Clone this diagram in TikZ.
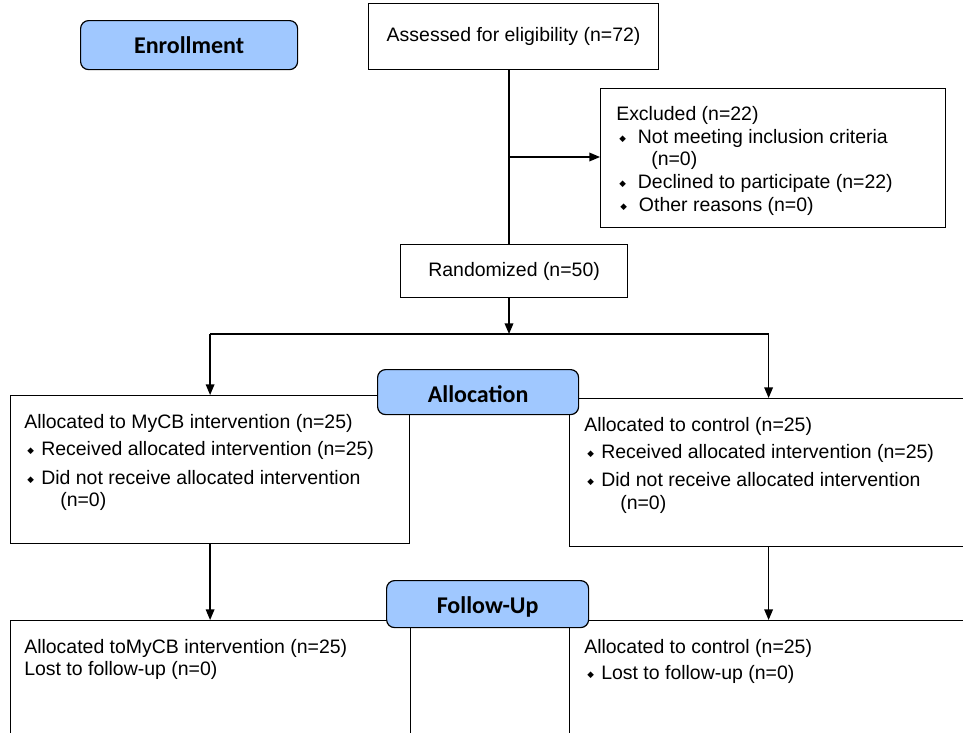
\documentclass[tikz,border=0pt]{standalone}
\usepackage{fontspec}
\setmainfont{Liberation Sans}
\newfontfamily\hdrfont{Carlito}
\newfontfamily\dvfont{DejaVu Sans}
\usetikzlibrary{arrows.meta}
\definecolor{hdrblue}{RGB}{160,200,255}
\newcommand\bl[1]{\makebox[#1][l]{\raisebox{1pt}{\dvfont\fontsize{6.5}{7}\selectfont ◆}}}
\tikzset{
  box/.style={draw, line width=0.9pt, rectangle, anchor=north west, inner sep=0pt},
  hdrbox/.style={draw, line width=0.9pt, rounded corners=6pt, fill=hdrblue, anchor=north west,
    inner sep=0pt, font=\hdrfont\bfseries\fontsize{18}{20}\selectfont},
  txt/.style={anchor=base west, inner sep=0pt, font=\fontsize{14.6}{17.5}\selectfont},
  ctxt/.style={font=\fontsize{14.6}{17.5}\selectfont},
  arr/.style={line width=1pt, -{Triangle[length=8pt,width=6.5pt]}},
  ln/.style={line width=1pt}
}
\begin{document}
\begin{tikzpicture}[x=0.75pt,y=-0.75pt]
\useasboundingbox (0,0) rectangle (963,732);
\clip (0,0) rectangle (963,732);
% boxes
\node[box, ctxt, minimum width=217.5pt, minimum height=49.5pt] (A) at (368,3) {Assessed for eligibility (n=72)};
\node[box, minimum width=258.75pt, minimum height=104.25pt] (E) at (600,88) {};
\node[box, ctxt, minimum width=170.25pt, minimum height=39.75pt] (R) at (400,244) {Randomized (n=50)};
\node[box, minimum width=299.25pt, minimum height=111pt] (L) at (10,395) {};
\node[box, minimum width=298.5pt, minimum height=111pt] (Rt) at (569,398) {};
\node[box, minimum width=300pt, minimum height=120pt] (FL) at (10,620) {};
\node[box, minimum width=298.5pt, minimum height=120pt] (FR) at (569,620) {};
% texts
\node[txt] (e1) at (616,120) {Excluded (n=22)};
\node[txt] (e2) at (619,143) {\bl{14pt}Not meeting inclusion criteria};
\node[txt] (e3) at (651,165) {(n=0)};
\node[txt] (e4) at (619,188) {\bl{14pt}Declined to participate (n=22)};
\node[txt] (e5) at (620,211) {\bl{14pt}Other reasons (n=0)};
\node[txt] (l1) at (24,428) {Allocated to MyCB intervention (n=25)};
\node[txt] (l2) at (27,455) {\bl{10.5pt}Received allocated intervention (n=25)};
\node[txt] (l3) at (27,484) {\bl{10.5pt}Did not receive allocated intervention};
\node[txt] (l4) at (60,506) {(n=0)};
\node[txt] (r1) at (584,431) {Allocated to control (n=25)};
\node[txt] (r2) at (587,458) {\bl{10.5pt}Received allocated intervention (n=25)};
\node[txt] (r3) at (587,486) {\bl{10.5pt}Did not receive allocated intervention};
\node[txt] (r4) at (620,509) {(n=0)};
\node[txt] (f1) at (24,653) {Allocated toMyCB intervention (n=25)};
\node[txt] (f2) at (24,675) {Lost to follow-up (n=0)};
\node[txt] (g1) at (584,653) {Allocated to control (n=25)};
\node[txt] (g2) at (587,679) {\bl{10.5pt}Lost to follow-up (n=0)};
% connectors
\coordinate (c1) at (509,157);
\coordinate (c2) at (509,334);
\draw[ln] (A.south -| c1) -- (R.north -| c1);
\draw[arr] (c1) -- (E.west |- c1);
\draw[arr] (R.south -| c2) -- (c2);
\draw[ln] (L.north |- c2) -- (Rt.north |- c2);
\draw[arr] (L.north |- c2) -- (L.north);
\draw[arr] (Rt.north |- c2) -- (Rt.north);
\draw[arr] (L.south) -- (FL.north -| L.south);
\draw[arr] (Rt.south) -- (FR.north -| Rt.south);
% headers
\node[hdrbox, minimum width=162.75pt, minimum height=36.75pt] (hE) at (80,20) {Enrollment};
\node[hdrbox, text height=15pt, text depth=0pt, minimum width=150.75pt, minimum height=33.75pt] (hA) at (377,369) {Allocation};
\node[hdrbox, text height=14pt, text depth=0pt, minimum width=151.5pt, minimum height=35.25pt] (hF) at (386,580) {Follow-Up};
\end{tikzpicture}
\end{document}
